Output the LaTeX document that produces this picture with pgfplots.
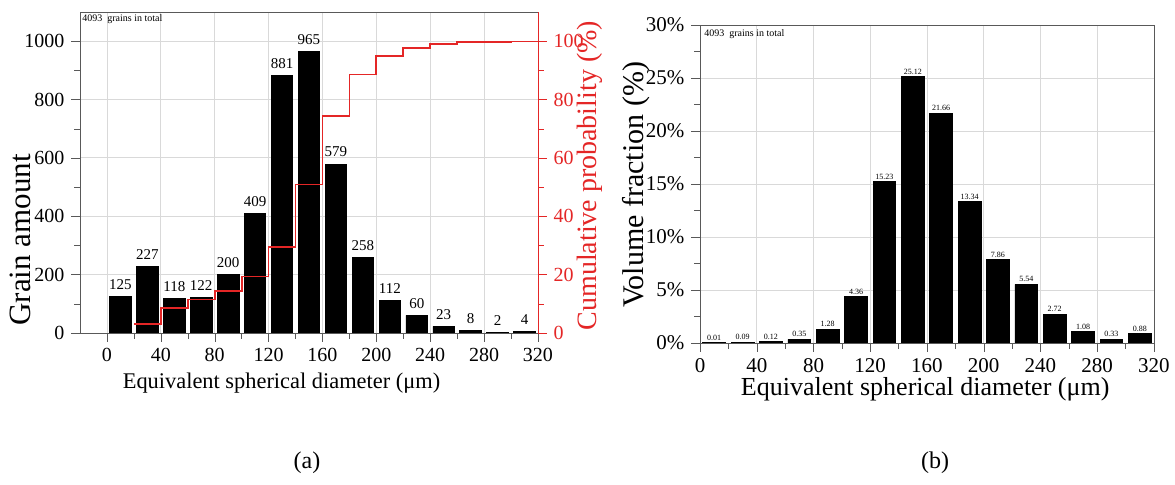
\documentclass[border=0pt]{standalone}
\usepackage{fontspec}
\setmainfont{Liberation Serif}
\usepackage{pgfplots}
\pgfplotsset{compat=1.18}
\definecolor{cumred}{RGB}{228,38,38}

\pgfplotsset{
  hist/.style={
    scale only axis,
    tick align=outside,
    ticklabel style={font=\fontsize{10}{12}\selectfont},
    grid=major,
    major grid style={gray!30, line width=0.4pt},
    axis line style={black!65},
    tick style={black!65},
    /pgf/number format/assume math mode=true,
    /pgf/number format/1000 sep={},
    xtick={0,40,...,320},
    minor x tick num=1,
    minor y tick num=1,
    xtick pos=bottom, ytick pos=left,
  },
  bars/.style={ybar, bar width=16, bar shift=0pt, fill=black, draw=black},
}

\begin{document}
\begin{tikzpicture}
\useasboundingbox (0,0) rectangle (587.5pt,242.5pt);

% (a) grain counts
\begin{axis}[hist,
    at={(40pt,76pt)}, anchor=south west,
    width=229pt, height=160.5pt,
    xmin=-20, xmax=320, ymin=0, ymax=1100,
    ytick={0,200,...,1000},
    ylabel={Grain amount},
    ylabel style={at={(axis description cs:-0.131,0.29)}, anchor=center, font=\fontsize{15.5}{18}\selectfont},
    xlabel={Equivalent spherical diameter (μm)},
    xlabel style={at={(axis description cs:0.44,-0.156)}, anchor=center, font=\fontsize{11.2}{13}\selectfont},
    nodes near coords,
    nodes near coords style={font=\fontsize{7.5}{9}\selectfont, /pgf/number format/assume math mode=true},
]
\addplot[bars] coordinates {
  (10,125) (30,227) (50,118) (70,122) (90,200) (110,409) (130,881) (150,965)
  (170,579) (190,258) (210,112) (230,60) (250,23) (270,8) (290,2) (310,4)
};
\node[anchor=north west, font=\fontsize{5}{6}\selectfont, inner sep=1pt]
  at (rel axis cs:0,1) {4093\ \ grains in total};
\end{axis}

\begin{axis}[
    scale only axis,
    at={(40pt,76pt)}, anchor=south west,
    width=229pt, height=160.5pt,
    xmin=-20, xmax=320, ymin=0, ymax=110,
    axis x line=none, axis y line*=right,
    ytick={0,20,...,100}, minor y tick num=1,
    tick align=outside,
    axis line style={cumred}, tick style={cumred},
    ticklabel style={font=\fontsize{10}{12}\selectfont, cumred},
    /pgf/number format/assume math mode=true,
    ylabel={Cumulative probability (\%)},
    ylabel style={at={(axis description cs:1.1135,0.49)}, anchor=center, rotate=0, font=\fontsize{14}{16}\selectfont, cumred},
]
\addplot[const plot, cumred, line width=0.9pt] coordinates {
  (20,3.05) (40,8.60) (60,11.48) (80,14.46) (100,19.35) (120,29.34)
  (140,50.87) (160,74.44) (180,88.59) (200,94.89) (220,97.63) (240,99.10)
  (260,99.66) (280,99.85) (300,99.90) (320,100)
};
\end{axis}

% (b) volume fraction
\begin{axis}[hist,
    at={(350pt,71pt)}, anchor=south west,
    width=227pt, height=159pt,
    xmin=0, xmax=320, ymin=0, ymax=30,
    ytick={0,5,...,30},
    ticklabel style={font=\fontsize{10.5}{12}\selectfont},
    yticklabel={\pgfmathprintnumber{\tick}\%},
    ylabel={Volume fraction (\%)},
    ylabel style={at={(axis description cs:-0.14,0.497)}, anchor=center, font=\fontsize{15}{18}\selectfont},
    xlabel={Equivalent spherical diameter (μm)},
    xlabel style={at={(axis description cs:0.496,-0.145)}, anchor=center, font=\fontsize{13}{16}\selectfont},
    nodes near coords={\pgfmathprintnumber[fixed,fixed zerofill,precision=2]{\pgfplotspointmeta}},
    nodes near coords style={font=\fontsize{4}{5}\selectfont, /pgf/number format/assume math mode=true, inner sep=1pt},
]
\addplot[bars] coordinates {
  (10,0.01) (30,0.09) (50,0.12) (70,0.35) (90,1.28) (110,4.36) (130,15.23) (150,25.12)
  (170,21.66) (190,13.34) (210,7.86) (230,5.54) (250,2.72) (270,1.08) (290,0.33) (310,0.88)
};
\node[anchor=north west, font=\fontsize{5}{6}\selectfont, inner sep=2pt]
  at (rel axis cs:0,1) {4093\ \ grains in total};
\end{axis}

\node[font=\fontsize{12}{14}\selectfont] at (153.5pt,11pt) {(a)};
\node[font=\fontsize{12}{14}\selectfont] at (467.5pt,11pt) {(b)};
\end{tikzpicture}
\end{document}
